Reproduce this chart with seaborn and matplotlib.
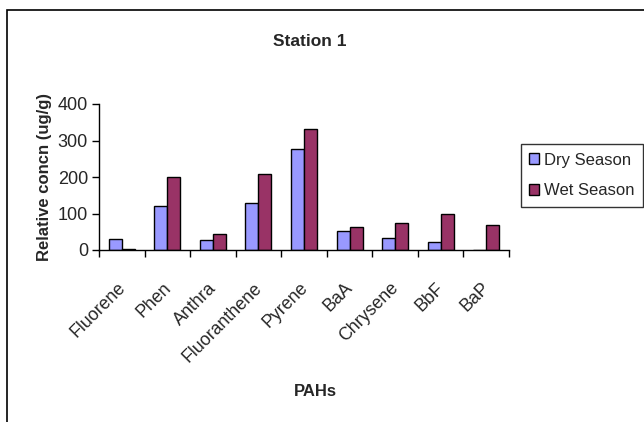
import matplotlib
matplotlib.use("Agg")
import matplotlib.pyplot as plt
import matplotlib.transforms as mtransforms
import seaborn as sns
import pandas as pd
from matplotlib.patches import Rectangle
from matplotlib.ticker import FixedLocator

pahs = ["Fluorene", "Phen", "Anthra", "Fluoranthene", "Pyrene",
        "BaA", "Chrysene", "BbF", "BaP"]
dry_season = [29, 120, 28, 128, 278, 51, 34, 21, 0]
wet_season = [4, 200, 43, 209, 332, 64, 73, 98, 68]
seasons = ["Dry Season", "Wet Season"]
colors = ["#9999FF", "#993366"]

df = pd.DataFrame({
    "PAH": pahs * 2,
    "season": [seasons[0]] * len(pahs) + [seasons[1]] * len(pahs),
    "conc": dry_season + wet_season,
})

sns.set_style("white")
plt.rcParams["font.family"] = ["Liberation Sans", "DejaVu Sans"]

fig = plt.figure(figsize=(6.44, 4.22), dpi=100)
ax = fig.add_axes([99 / 644, 1 - 250 / 422, 410 / 644, 146 / 422])

sns.barplot(data=df, x="PAH", y="conc", hue="season", palette=colors,
            width=0.57, gap=0, edgecolor="black", linewidth=1.0,
            saturation=1, ax=ax)

ax.set_ylim(0, 400)
ax.set_xlim(-0.5, len(pahs) - 0.5)
ax.set_yticks([0, 100, 200, 300, 400])
ax.tick_params(axis="y", labelsize=13, direction="out", length=5, width=1,
               left=True, color="black", pad=3)
ax.tick_params(axis="x", which="major", length=0, labelsize=12.8, pad=9)
ax.xaxis.set_minor_locator(FixedLocator([i - 0.5 for i in range(len(pahs) + 1)]))
ax.tick_params(axis="x", which="minor", direction="out", length=5, width=1,
               bottom=True, color="black")
shift = mtransforms.ScaledTranslation(-0.05, -0.17, fig.dpi_scale_trans)
for lab in ax.get_xticklabels():
    lab.set_rotation(45)
    lab.set_ha("right")
    lab.set_rotation_mode("anchor")
    lab.set_transform(lab.get_transform() + shift)

for side in ["top", "right"]:
    ax.spines[side].set_visible(False)
for side in ["left", "bottom"]:
    ax.spines[side].set_color("black")
    ax.spines[side].set_linewidth(1)

ax.set_xlabel("")
ax.set_ylabel("Relative concn (ug/g)", fontsize=12, fontweight="bold", labelpad=4)
fig.text(315 / 644, 1 - 391 / 422, "PAHs", ha="center", va="center",
         fontsize=12, fontweight="bold")
fig.text(310 / 644, 1 - 42 / 422, "Station 1", ha="center", va="center",
         fontsize=12.5, fontweight="bold")

leg = ax.legend(loc="center left", bbox_to_anchor=(521 / 644, 1 - 175.5 / 422),
                bbox_transform=fig.transFigure, frameon=True, fancybox=False,
                fontsize=12, handlelength=0.6, handleheight=0.6,
                handletextpad=0.3, borderpad=0.5, labelspacing=0.95,
                borderaxespad=0)
leg.get_frame().set_edgecolor("black")
leg.get_frame().set_linewidth(1)

fig.patches.append(Rectangle((7 / 644, -0.01), 1.0, 1 - 10 / 422 + 0.01,
                             transform=fig.transFigure, fill=False,
                             edgecolor="black", linewidth=1.2))

fig.savefig("out.png", dpi=100)
